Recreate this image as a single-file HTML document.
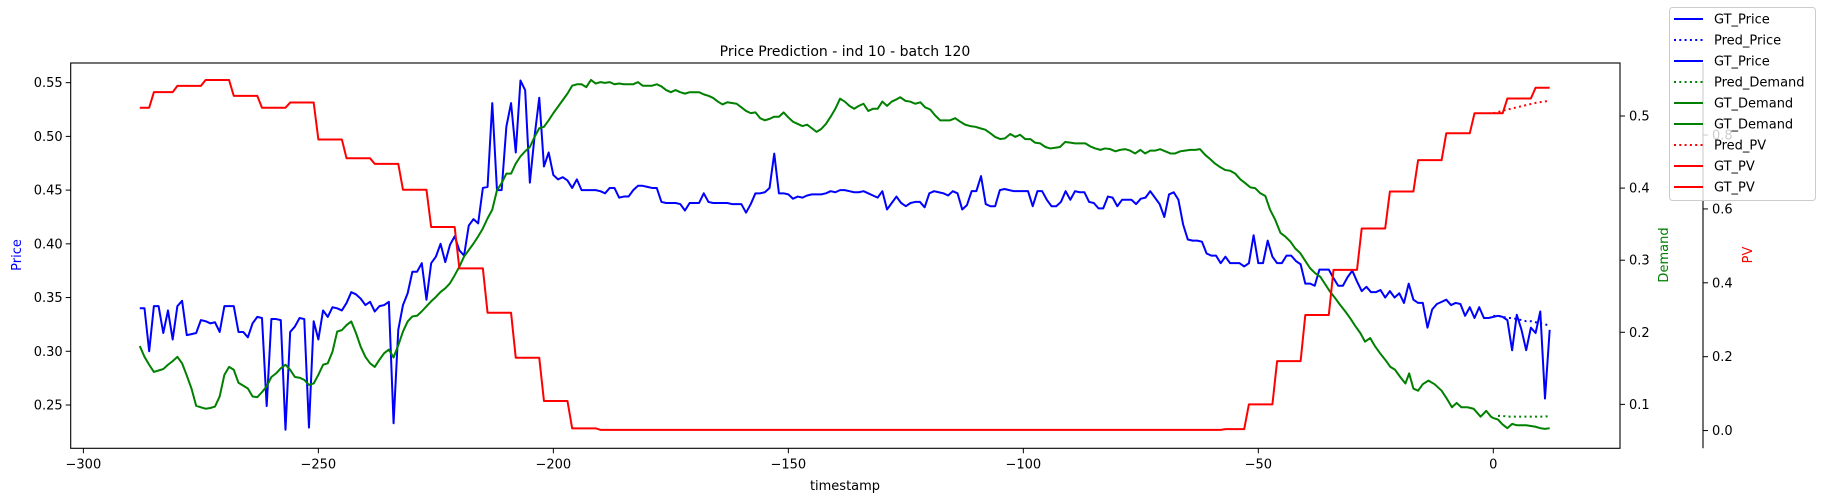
<!DOCTYPE html>
<html><head><meta charset="utf-8">
<style>
html,body{margin:0;padding:0;background:#fff;}
svg{display:block;font-family:"DejaVu Sans","Liberation Sans",sans-serif;}
</style></head>
<body>
<svg id="chart" width="1822" height="501" viewBox="0 0 1822 501" xmlns="http://www.w3.org/2000/svg">
<rect width="1822" height="501" fill="#fff"/>
<g id="marks"></g>
<g id="axes"></g>
<text x="845" y="56" text-anchor="middle" font-size="14" fill="#000">Price Prediction - ind 10 - batch 120</text>
<text x="845" y="490" text-anchor="middle" font-size="13" fill="#000">timestamp</text>
<text transform="translate(21,255) rotate(-90)" text-anchor="middle" font-size="13" fill="#0000ff">Price</text>
<text transform="translate(1668,255) rotate(-90)" text-anchor="middle" font-size="13" fill="#008000">Demand</text>
<text transform="translate(1752,255) rotate(-90)" text-anchor="middle" font-size="13" fill="#ff0000">PV</text>
<g id="legend"></g>
</svg>
<script>
// ---------- data ----------
const histStart = -288;
const priceHist = [.340,.340,.300,.342,.342,.317,.338,.311,.342,.347,
.315,.316,.317,.329,.328,.326,.327,.318,.342,.342,
.342,.318,.318,.313,.326,.332,.331,.249,.330,.330,
.329,.227,.318,.323,.331,.330,.229,.328,.311,.338,
.332,.341,.340,.338,.345,.355,.353,.349,.343,.346,
.337,.342,.343,.346,.233,.320,.343,.354,.374,.374,
.382,.348,.382,.388,.400,.383,.399,.407,.394,.389,
.417,.423,.419,.452,.453,.531,.450,.450,.509,.531,
.485,.552,.543,.457,.500,.536,.472,.485,.464,.460,
.462,.459,.452,.460,.450,.450,.450,.450,.449,.447,
.452,.452,.443,.444,.444,.450,.454,.454,.453,.452,
.452,.439,.438,.438,.438,.437,.431,.438,.438,.438,
.447,.439,.438,.438,.438,.438,.437,.437,.437,.429,
.437,.447,.447,.448,.452,.484,.447,.447,.446,.442,
.444,.443,.445,.446,.446,.446,.447,.449,.448,.450,
.450,.449,.448,.448,.449,.447,.445,.443,.449,.432,
.438,.444,.438,.435,.438,.439,.439,.434,.447,.449,
.448,.447,.445,.449,.447,.432,.436,.449,.449,.463,
.437,.435,.435,.450,.451,.450,.449,.449,.449,.449,
.435,.449,.449,.441,.435,.435,.439,.449,.441,.449,
.448,.448,.439,.438,.433,.433,.444,.443,.435,.441,
.441,.441,.437,.442,.443,.449,.443,.437,.425,.446,
.448,.441,.418,.404,.403,.403,.402,.391,.389,.389,
.382,.388,.382,.382,.382,.379,.382,.408,.382,.382,
.403,.388,.382,.382,.389,.389,.384,.381,.363,.363,
.361,.376,.376,.376,.368,.361,.361,.369,.375,.365,
.356,.360,.355,.355,
.357,.350,.356,.350,.354,.345,.363,.348,.345,.345,.322,.339,.344,.346,.348,.343,.345,.344,.333,.341,.331,.341,.331,.331];
const futureTimes = [0,1,2,3,4,5,6,7,8,9,10,11,12];
const priceFuture = [.332,.333,.332,.329,.301,.334,.320,.301,.322,.317,.337,.256,.320];
const pricePred = [.333,.333,.332,.331,.331,.330,.329,.328,.328,.327,.326,.325,.324];

const demandEarly = [.181,.166,.155,.145,.147,.149,.155,.160,.166,.157,.140,.122,.098,.096,.094,.095,.097,.111,.141,.152,.148,.130,.126,.122,.111,.110,.117,
.125,.138,.143,.150,.155,.148,.138,.137,.134,.127,
.129,.141,.155,.157,.173,.201,.203,.210,.215,.199,
.180,.166,.157,.152,.162,.171,.176,.165,.182,.201,
.215,.222,.223,.229,.236,.243,.249,.256,.261,.268,
.279,.291,.305,.314,.323,.333,.344,.358,.370,.397,
.407,.420,.420,.434,.444,.451,.457,.471,.483,.485,
.494,.504,.513,.522,.531,.542,.544,.544,.540,.550,
.545,.547,.546,.547,.544,.545,.544,.544,.544,.547,
.542,.542,.542,.544,.541,.536,.533,.536,.533,.531,
.533,.533,.533,.530,.528,.525,.520,.516,.519,.518,
.517,.512,.507,.504,.505,.497,.494,.496,.499,.499,
.505,.498,.492,.489,.486,.488,.483,.478,.482,.489,
.499,.510,.524,.520,.514,.510,.514,.517,.507,.510,
.510,.520,.514,.520,.523];
const demandLateT = [-126.2,-125.1,-124.1,-123.0,-121.9,-120.9,-119.8,-118.8,-117.7,-116.6,
-115.6,-114.5,-113.4,-112.4,-111.3,-110.2,-109.2,-108.1,-107.0,-106.0,
-104.9,-103.9,-102.8,-101.7,-100.7,-99.6,-98.5,-97.5,-96.4,-95.3,
-94.3,-93.2,-92.2,-91.1,-90.0,-89.0,-87.9,-86.8,-85.8,-84.7,
-83.6,-82.6,-81.5,-80.4,-79.4,-78.3,-77.3,-76.2,-75.1,-74.1,
-73.0,-71.9,-70.9,-69.8,-68.7,-67.7,-66.6,-65.6,-64.5,-63.4,
-62.4,-61.3,-60.2,-59.2,-58.1,-57.0,-56.0,-54.9,-53.8,-52.8,
-51.7,-50.7,-49.6,-48.5,-47.5,-46.4,-45.3,-44.3,-43.2,-42.1,
-41.1,-40.0,-39.0,-37.9,-36.8,-35.8,-34.7,-33.6,-32.6,-31.5,
-30.4,-29.4,-28.3,-27.3,-26.2,-25.1,-24.1,-23.0,-21.9,-20.9,
-19.8,-18.7,
-17.9,-17,-16,-15,-13.8,-12.5,-11,-9.8,-8.8,-7.8,-6.8,-5.5,-4.2,-2.7,-1.5,-0.5,0];
const demandLateV = [.526,.521,.520,.517,.519,.512,.509,.501,.494,.494,
.494,.497,.492,.488,.486,.485,.483,.481,.476,.471,
.468,.469,.475,.471,.474,.468,.468,.463,.462,.457,
.455,.456,.457,.464,.463,.462,.462,.462,.458,.455,
.453,.455,.454,.451,.453,.454,.452,.448,.453,.448,
.452,.452,.454,.451,.448,.448,.451,.452,.453,.453,
.454,.446,.440,.434,.429,.425,.424,.420,.412,.407,
.401,.400,.393,.389,.370,.356,.338,.333,.326,.316,
.310,.299,.289,.282,.277,.267,.256,.247,.238,.229,
.219,.209,.199,.187,.192,.180,.171,.162,.152,.148,
.138,.129,
.143,.122,.119,.128,.133,.128,.119,.107,.096,.102,.096,.096,.094,.083,.091,.083,.081];
const demandFuture = [.081,.079,.072,.067,.073,.071,.071,.071,.070,.069,.067,.066,.067];
const demandPredT = [1,2,3,4,5,6,7,8,9,10,11,12];
const demandPred = [.084,.084,.083,.083,.083,.083,.083,.083,.083,.083,.083,.084];

const pvT = [-288,-286,-285,-281,-280,-275,-274,-269,-268,-263,-262,-257,-256,-251,-250,-245,-244,-239,-238,-233,-232,-227,-226,-221,-220,-215,-214,-209,-208,-203,-202,-197,-196,-191,-190,-58,-57,-53,-52,-47,-46,-41,-40,-35,-34,-29,-28,-23,-22,-17,-16,-11,-10,-5,-4,0];
const pvV = [.874,.874,.916,.916,.933,.933,.949,.949,.906,.906,.874,.874,.888,.888,.788,.788,.737,.737,.722,.722,.652,.652,.551,.551,.439,.439,.319,.319,.197,.197,.080,.080,.006,.006,.002,.002,.004,.004,.071,.071,.188,.188,.313,.313,.435,.435,.547,.547,.647,.647,.732,.732,.805,.805,.859,.859];
const pvFutureT = [0,2,3,8,9,12];
const pvFutureV = [.859,.859,.899,.899,.928,.928];
const pvPred = [.859,.862,.866,.869,.872,.875,.878,.881,.884,.887,.889,.891,.892];

const xTicks = [-300,-250,-200,-150,-100,-50,0];
const priceTicks = [0.25,0.30,0.35,0.40,0.45,0.50,0.55];
const demandTicks = [0.1,0.2,0.3,0.4,0.5];
const pvTicks = [0.0,0.2,0.4,0.6,0.8];

// ---------- scales ----------
const L=70.7,R=1620,T=63,B=448.3;
function lin(d0,d1,r0,r1){return v=>r0+(v-d0)*(r1-r0)/(d1-d0);}
const xS=lin(-302.7,26.96,L,R);
const yP=lin(0.2097,0.5683,B,T);
const yD=lin(0.0391,0.5735,B,T);
const yV=lin(-0.048,0.995,B,T);
const NS='http://www.w3.org/2000/svg';
const marks=document.getElementById('marks'), axes=document.getElementById('axes');
function el(tag,attrs,parent){const e=document.createElementNS(NS,tag);for(const k in attrs)e.setAttribute(k,attrs[k]);parent.appendChild(e);return e;}
function pathFrom(ts,vs,ys){return ts.map((t,i)=>(i?'L':'M')+xS(t).toFixed(2)+','+ys(vs[i]).toFixed(2)).join('');}
function line(ts,vs,ys,color,dotted,name){
  const p=el('path',{d:pathFrom(ts,vs,ys),fill:'none',stroke:color,'stroke-width':2,'stroke-linejoin':'round'},marks);
  if(dotted){p.setAttribute('stroke-dasharray','2,3.3');}
  
  
}
const histT=priceHist.map((_,i)=>histStart+i);
const demEarlyT=demandEarly.map((_,i)=>histStart+i);
// price
line(histT.concat([0]),priceHist.concat([priceFuture[0]]),yP,'#0000ff',false,'gt-price-history-line');
line(futureTimes,pricePred,yP,'#0000ff',true,'pred-price-line');
line(futureTimes,priceFuture,yP,'#0000ff',false,'gt-price-future-line');
// demand
line(demandPredT,demandPred,yD,'#008000',true,'pred-demand-line');
line(demEarlyT.concat(demandLateT),demandEarly.concat(demandLateV),yD,'#008000',false,'gt-demand-history-line');
line(futureTimes,demandFuture,yD,'#008000',false,'gt-demand-future-line');
// pv
line(futureTimes,pvPred,yV,'#ff0000',true,'pred-pv-line');
line(pvT,pvV,yV,'#ff0000',false,'gt-pv-history-line');
line(pvFutureT,pvFutureV,yV,'#ff0000',false,'gt-pv-future-line');

// ---------- axes ----------
const frame=el('rect',{x:L,y:T,width:R-L,height:B-T,fill:'none',stroke:'#000','stroke-width':1.1},axes);


const pvSpine=el('line',{x1:1703,y1:T,x2:1703,y2:B,stroke:'#000','stroke-width':1.1},axes);


xTicks.forEach(v=>{const x=xS(v);
  el('line',{x1:x,y1:B,x2:x,y2:B+5,stroke:'#000','stroke-width':1},axes);
  const t=el('text',{x:x,y:B+20,'text-anchor':'middle','font-size':13},axes);t.textContent=v<0?'\u2212'+Math.abs(v):String(v);
  
  });
priceTicks.forEach(v=>{const y=yP(v);
  el('line',{x1:L-5,y1:y,x2:L,y2:y,stroke:'#000','stroke-width':1},axes);
  const t=el('text',{x:L-8,y:y+4.5,'text-anchor':'end','font-size':13},axes);t.textContent=v.toFixed(2);
  
  });
demandTicks.forEach(v=>{const y=yD(v);
  el('line',{x1:R,y1:y,x2:R+5,y2:y,stroke:'#000','stroke-width':1},axes);
  const t=el('text',{x:R+9,y:y+4.5,'text-anchor':'start','font-size':13},axes);t.textContent=v.toFixed(1);
  
  });
pvTicks.forEach(v=>{const y=yV(v);
  el('line',{x1:1703,y1:y,x2:1708,y2:y,stroke:'#000','stroke-width':1},axes);
  const t=el('text',{x:1712,y:y+4.5,'text-anchor':'start','font-size':13},axes);t.textContent=v.toFixed(1);
  
  });

// ---------- legend ----------
const legendLabels=['GT_Price','Pred_Price','GT_Price','Pred_Demand','GT_Demand','GT_Demand','Pred_PV','GT_PV','GT_PV'];
const legendColors=['#0000ff','#0000ff','#0000ff','#008000','#008000','#008000','#ff0000','#ff0000','#ff0000'];
const legendDotted=[false,true,false,true,false,false,true,false,false];
const lg=document.getElementById('legend');
el('rect',{x:1669.5,y:7.5,width:146,height:193,rx:3,fill:'#fff','fill-opacity':0.8,stroke:'#cccccc','stroke-width':1},lg);
legendLabels.forEach((lab,i)=>{const y=19+i*21;
  const h=el('line',{x1:1674,y1:y,x2:1703,y2:y,stroke:legendColors[i],'stroke-width':2},lg);
  if(legendDotted[i])h.setAttribute('stroke-dasharray','2,3.3');
  
  
  const t=el('text',{x:1714,y:y+4.5,'font-size':13,fill:'#000'},lg);t.textContent=lab;
  
  });
</script>
</body></html>
